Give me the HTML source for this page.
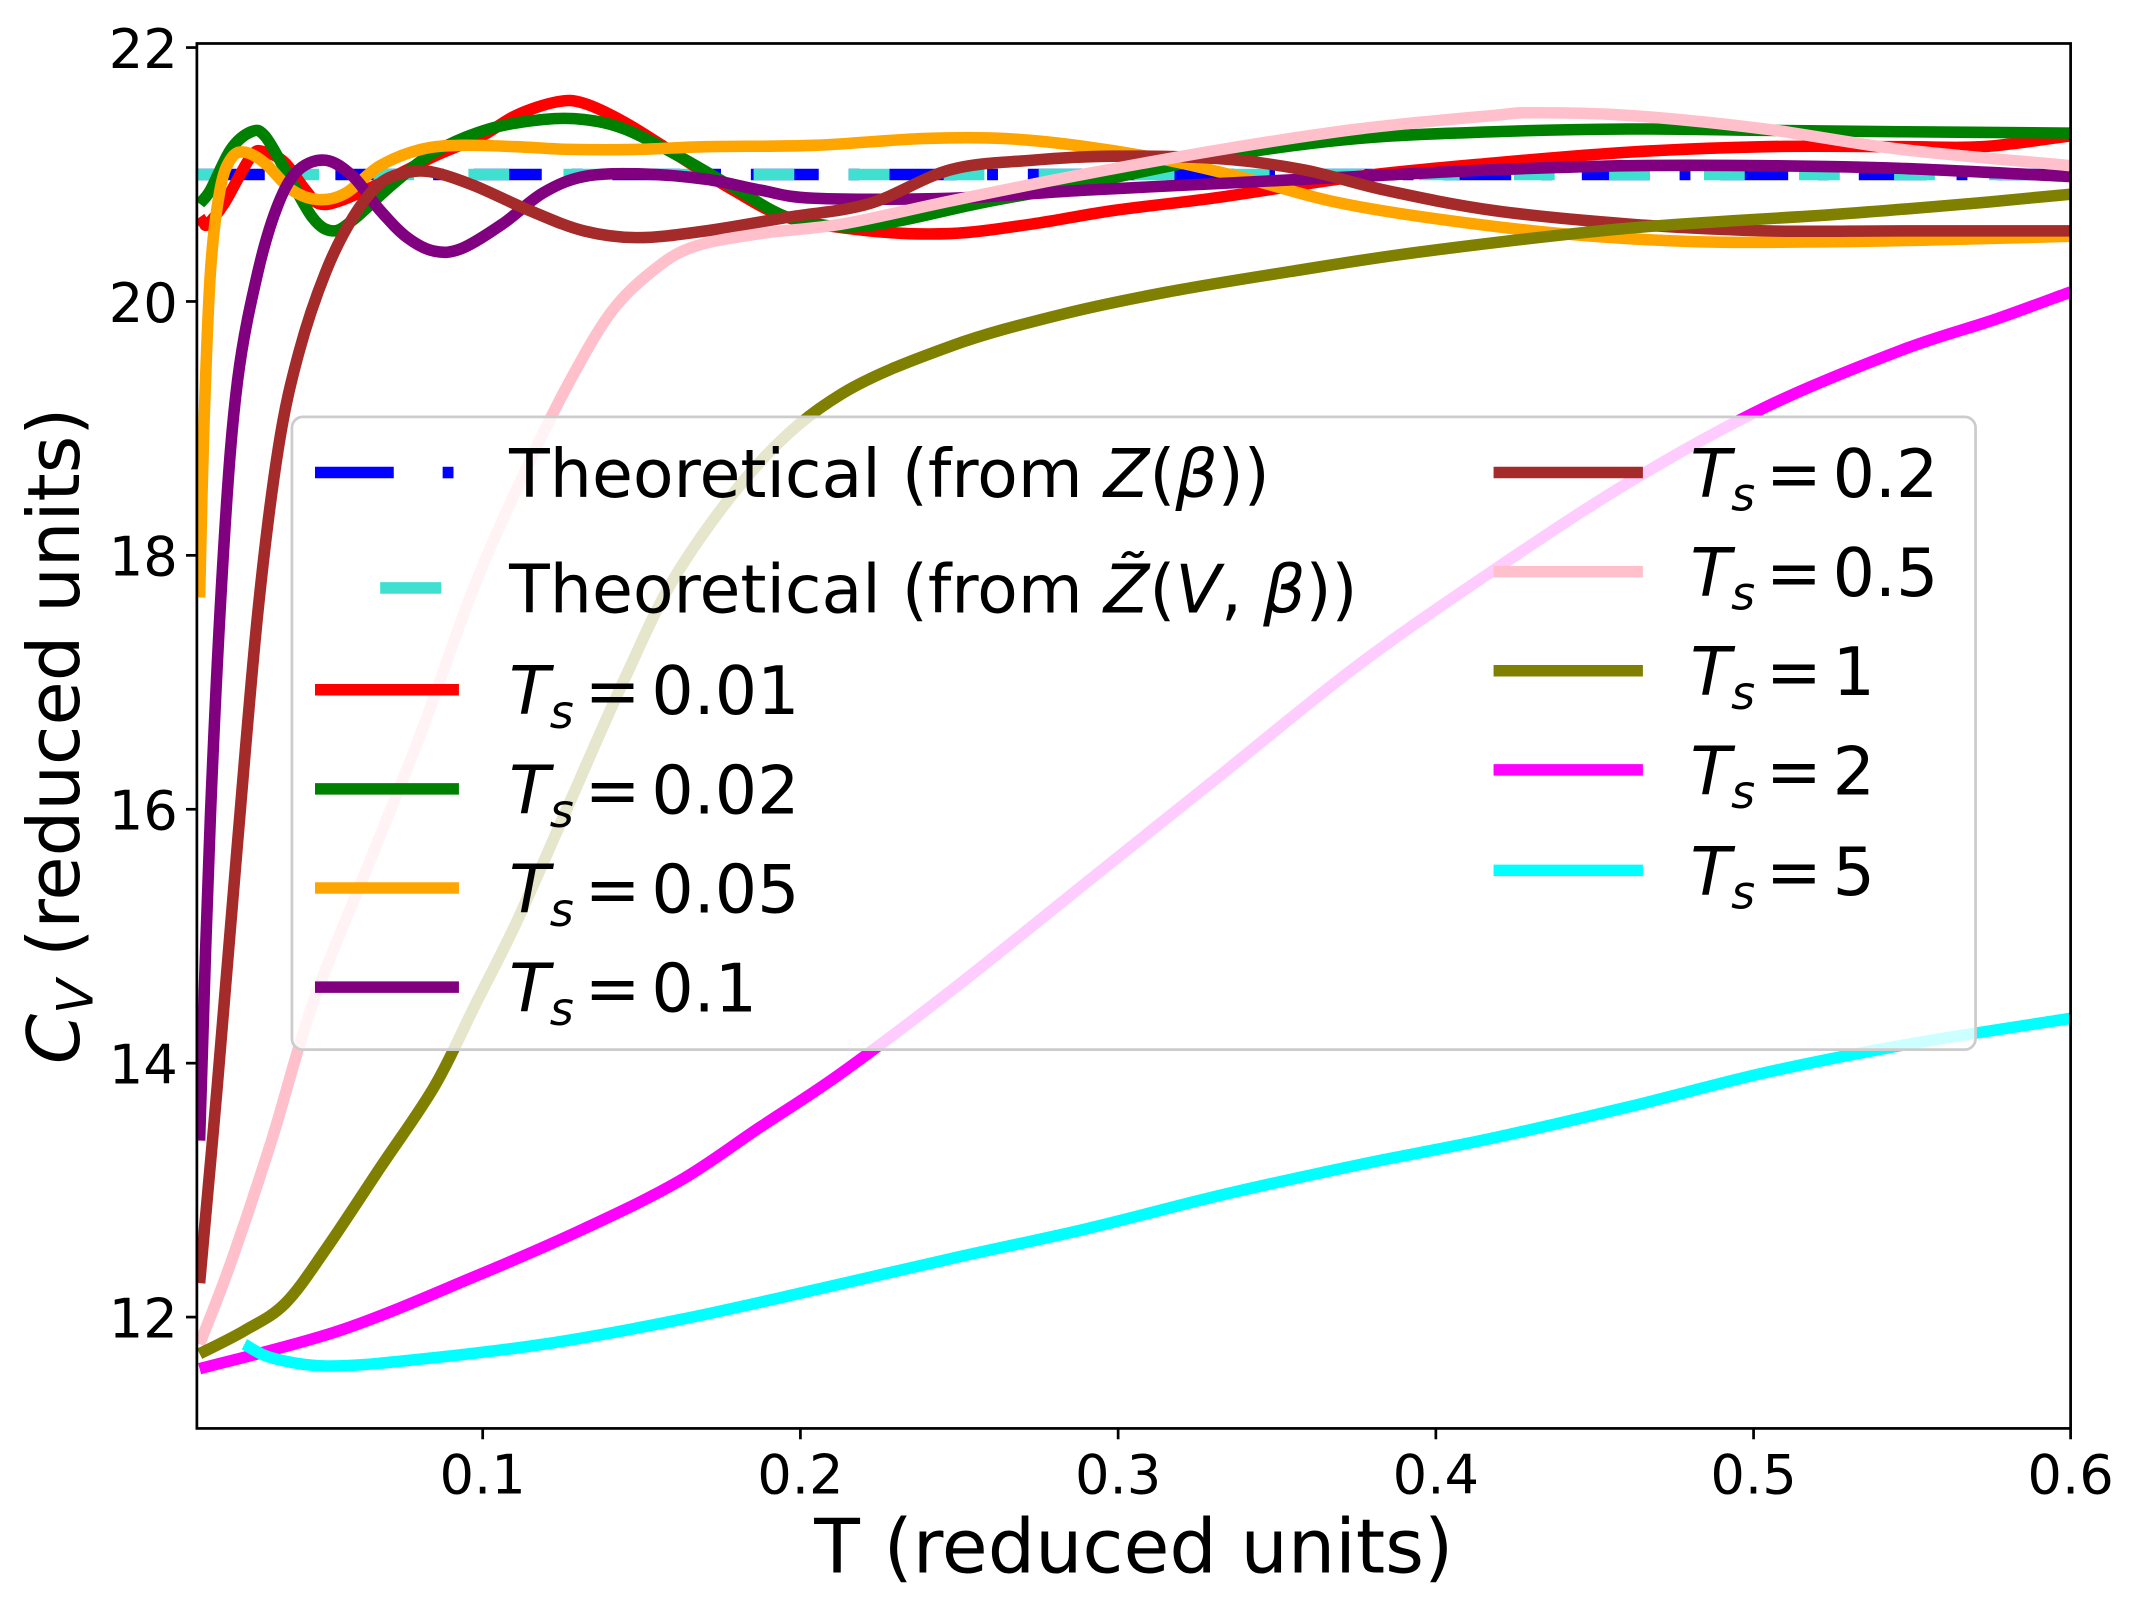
<!DOCTYPE html>
<html><head><meta charset="utf-8"><style>html,body{margin:0;padding:0;background:#fff}svg{display:block}</style></head>
<body>
<svg id="s" width="2129" height="1607" viewBox="0 0 1568 1183.5" xmlns="http://www.w3.org/2000/svg" font-family="DejaVu Sans, Liberation Sans, sans-serif">
<rect x="0" y="0" width="1568" height="1183.5" fill="#fff"/>
<defs><clipPath id="c"><rect x="145" y="32" width="1380" height="1020"/></clipPath></defs>
<g clip-path="url(#c)" fill="none" stroke-width="8.5" stroke-linejoin="round" stroke-linecap="butt">
<line x1="145" y1="128.5" x2="1525" y2="128.5" stroke="#0000ff" stroke-dasharray="50 22 8 22"/>
<line x1="145" y1="128.5" x2="1525" y2="128.5" stroke="#40e0d0" stroke-dasharray="30 40" stroke-dashoffset="-60"/>
<polyline class="sm" stroke="#ff0000" points="147,160 150,164 153,165 165,150 185,115 195,112 210,120 225,140 235,150 250,148 280,135 320,115 355,100 380,85 410,75 430,76 460,90 500,115 540,140 580,160 640,170 700,172 760,165 820,155 900,145 1000,130 1100,120 1200,112 1300,108 1400,108 1460,108 1525,100"/>
<polyline class="sm" stroke="#008000" points="147,150 155,140 170,110 185,97 195,100 210,125 230,160 245,170 260,162 290,135 320,112 360,95 400,88 430,88 460,95 500,115 540,138 580,160 620,167 660,163 720,150 800,135 900,115 1000,102 1100,97 1200,95 1300,96 1400,97 1525,98"/>
<polyline class="sm" stroke="#ffa500" points="147,440 150,320 155,200 162,140 170,117 180,112 195,120 215,140 235,147 255,142 280,122 310,110 340,107 380,108 420,110 470,110 520,108 600,107 680,102 740,102 800,108 860,118 920,132 980,148 1050,160 1150,172 1250,178 1350,178 1450,176 1525,174"/>
<polyline class="sm" stroke="#800080" points="147,840 155,600 165,400 175,280 190,200 205,150 220,125 240,118 260,130 280,155 300,175 320,185 340,183 370,165 400,142 430,130 470,128 520,132 560,140 600,146 700,146 800,140 900,135 1000,130 1100,125 1200,122 1300,122 1400,124 1525,130"/>
<polyline class="sm" stroke="#a52a2a" points="147,945 160,800 175,620 190,450 205,330 220,260 240,200 260,160 280,135 300,127 320,127 350,137 390,155 430,170 470,175 520,170 580,160 640,150 700,125 760,118 820,115 900,117 960,125 1020,140 1100,155 1200,165 1300,170 1400,170 1525,170"/>
<polyline class="sm" stroke="#ffc0cb" points="147,990 170,930 200,840 230,740 270,640 310,540 350,430 390,340 420,280 450,230 480,200 510,182 560,172 620,165 700,148 800,128 900,110 1000,95 1100,85 1130,83 1200,85 1300,95 1400,110 1525,122"/>
<polyline class="sm" stroke="#808000" points="147,997 180,980 210,960 240,920 280,860 320,800 350,740 380,680 420,590 460,500 500,420 560,340 620,290 700,255 780,232 860,215 950,200 1050,185 1200,168 1350,158 1450,150 1525,143"/>
<polyline class="sm" stroke="#ff00ff" points="147,1008 250,980 350,940 430,905 500,870 560,830 620,790 700,730 800,650 900,570 1000,490 1100,420 1200,355 1300,300 1400,258 1470,235 1525,215"/>
<polyline class="sm" stroke="#00ffff" points="180,990 200,1000 240,1006 300,1002 400,990 500,972 600,950 700,927 800,905 900,880 1000,858 1100,838 1200,815 1300,790 1400,770 1525,750"/>
</g>
<rect x="145" y="32" width="1380" height="1020" fill="none" stroke="#000" stroke-width="2"/>
<g stroke="#000" stroke-width="2">
<line x1="355.5" y1="1052" x2="355.5" y2="1060"/><line x1="589.5" y1="1052" x2="589.5" y2="1060"/><line x1="823.5" y1="1052" x2="823.5" y2="1060"/><line x1="1057.5" y1="1052" x2="1057.5" y2="1060"/><line x1="1291.5" y1="1052" x2="1291.5" y2="1060"/><line x1="1525" y1="1052" x2="1525" y2="1060"/>
<line x1="137" y1="35" x2="145" y2="35"/><line x1="137" y1="222" x2="145" y2="222"/><line x1="137" y1="409" x2="145" y2="409"/><line x1="137" y1="596" x2="145" y2="596"/><line x1="137" y1="783" x2="145" y2="783"/><line x1="137" y1="970" x2="145" y2="970"/>
</g>
<g font-size="40" fill="#000" text-anchor="middle">
<text x="355.5" y="1100">0.1</text><text x="589.5" y="1100">0.2</text><text x="823.5" y="1100">0.3</text><text x="1057.5" y="1100">0.4</text><text x="1291.5" y="1100">0.5</text><text x="1525" y="1100">0.6</text>
</g>
<g font-size="40" fill="#000" text-anchor="end">
<text x="131" y="50">22</text><text x="131" y="237">20</text><text x="131" y="424">18</text><text x="131" y="611">16</text><text x="131" y="798">14</text><text x="131" y="985">12</text>
</g>
<text x="835" y="1158" font-size="55" text-anchor="middle">T (reduced units)</text>
<text transform="translate(58,542) rotate(-90)" font-size="53" text-anchor="middle"><tspan font-style="italic">C</tspan><tspan font-style="italic" font-size="37" dy="10">V</tspan><tspan dy="-10"> (reduced units)</tspan></text>
<rect x="215" y="307" width="1240" height="466" rx="8" fill="#fff" fill-opacity="0.8" stroke="#cccccc" stroke-width="2"/>
<g stroke-width="8.5" fill="none">
<line x1="232" y1="348" x2="290" y2="348" stroke="#0000ff"/><line x1="326" y1="348" x2="334" y2="348" stroke="#0000ff"/>
<line x1="280" y1="433" x2="325" y2="433" stroke="#40e0d0"/>
<line x1="232" y1="508" x2="338" y2="508" stroke="#ff0000"/>
<line x1="232" y1="581" x2="338" y2="581" stroke="#008000"/>
<line x1="232" y1="654" x2="338" y2="654" stroke="#ffa500"/>
<line x1="232" y1="727" x2="338" y2="727" stroke="#800080"/>
<line x1="1100" y1="348" x2="1210" y2="348" stroke="#a52a2a"/>
<line x1="1100" y1="421" x2="1210" y2="421" stroke="#ffc0cb"/>
<line x1="1100" y1="494" x2="1210" y2="494" stroke="#808000"/>
<line x1="1100" y1="567" x2="1210" y2="567" stroke="#ff00ff"/>
<line x1="1100" y1="641" x2="1210" y2="641" stroke="#00ffff"/>
</g>
<g font-size="49" fill="#000">
<text x="375" y="366">Theoretical (from <tspan font-style="italic">Z</tspan>(<tspan font-style="italic">β</tspan>))</text>
<text x="375" y="451">Theoretical (from <tspan font-style="italic">Z̃</tspan>(<tspan font-style="italic">V</tspan>, <tspan font-style="italic">β</tspan>))</text>
<text x="375" y="526"><tspan font-style="italic">T</tspan><tspan font-style="italic" font-size="34" dy="10">s</tspan><tspan dy="-10" dx="8">=</tspan><tspan dx="8">0.01</tspan></text>
<text x="375" y="599"><tspan font-style="italic">T</tspan><tspan font-style="italic" font-size="34" dy="10">s</tspan><tspan dy="-10" dx="8">=</tspan><tspan dx="8">0.02</tspan></text>
<text x="375" y="672"><tspan font-style="italic">T</tspan><tspan font-style="italic" font-size="34" dy="10">s</tspan><tspan dy="-10" dx="8">=</tspan><tspan dx="8">0.05</tspan></text>
<text x="375" y="745"><tspan font-style="italic">T</tspan><tspan font-style="italic" font-size="34" dy="10">s</tspan><tspan dy="-10" dx="8">=</tspan><tspan dx="8">0.1</tspan></text>
<text x="1245" y="366"><tspan font-style="italic">T</tspan><tspan font-style="italic" font-size="34" dy="10">s</tspan><tspan dy="-10" dx="8">=</tspan><tspan dx="8">0.2</tspan></text>
<text x="1245" y="439"><tspan font-style="italic">T</tspan><tspan font-style="italic" font-size="34" dy="10">s</tspan><tspan dy="-10" dx="8">=</tspan><tspan dx="8">0.5</tspan></text>
<text x="1245" y="512"><tspan font-style="italic">T</tspan><tspan font-style="italic" font-size="34" dy="10">s</tspan><tspan dy="-10" dx="8">=</tspan><tspan dx="8">1</tspan></text>
<text x="1245" y="585"><tspan font-style="italic">T</tspan><tspan font-style="italic" font-size="34" dy="10">s</tspan><tspan dy="-10" dx="8">=</tspan><tspan dx="8">2</tspan></text>
<text x="1245" y="659"><tspan font-style="italic">T</tspan><tspan font-style="italic" font-size="34" dy="10">s</tspan><tspan dy="-10" dx="8">=</tspan><tspan dx="8">5</tspan></text>
</g>
</svg>
<script>
(function(){
var NS="http://www.w3.org/2000/svg";
var pls=document.querySelectorAll("polyline.sm");
for(var i=0;i<pls.length;i++){
 var pl=pls[i];
 var pts=pl.getAttribute("points").trim().split(/\s+/).map(function(s){var a=s.split(",");return [+a[0],+a[1]];});
 var d="M"+pts[0][0]+","+pts[0][1];
 for(var j=0;j<pts.length-1;j++){
  var p0=pts[j>0?j-1:0],p1=pts[j],p2=pts[j+1],p3=pts[j+2<pts.length?j+2:j+1];
  var c1x=p1[0]+(p2[0]-p0[0])/6,c1y=p1[1]+(p2[1]-p0[1])/6;
  var c2x=p2[0]-(p3[0]-p1[0])/6,c2y=p2[1]-(p3[1]-p1[1])/6;
  d+=" C"+c1x.toFixed(1)+","+c1y.toFixed(1)+" "+c2x.toFixed(1)+","+c2y.toFixed(1)+" "+p2[0]+","+p2[1];
 }
 var p=document.createElementNS(NS,"path");
 p.setAttribute("d",d);p.setAttribute("stroke",pl.getAttribute("stroke"));
 pl.parentNode.replaceChild(p,pl);
}
})();
</script>
</body></html>
